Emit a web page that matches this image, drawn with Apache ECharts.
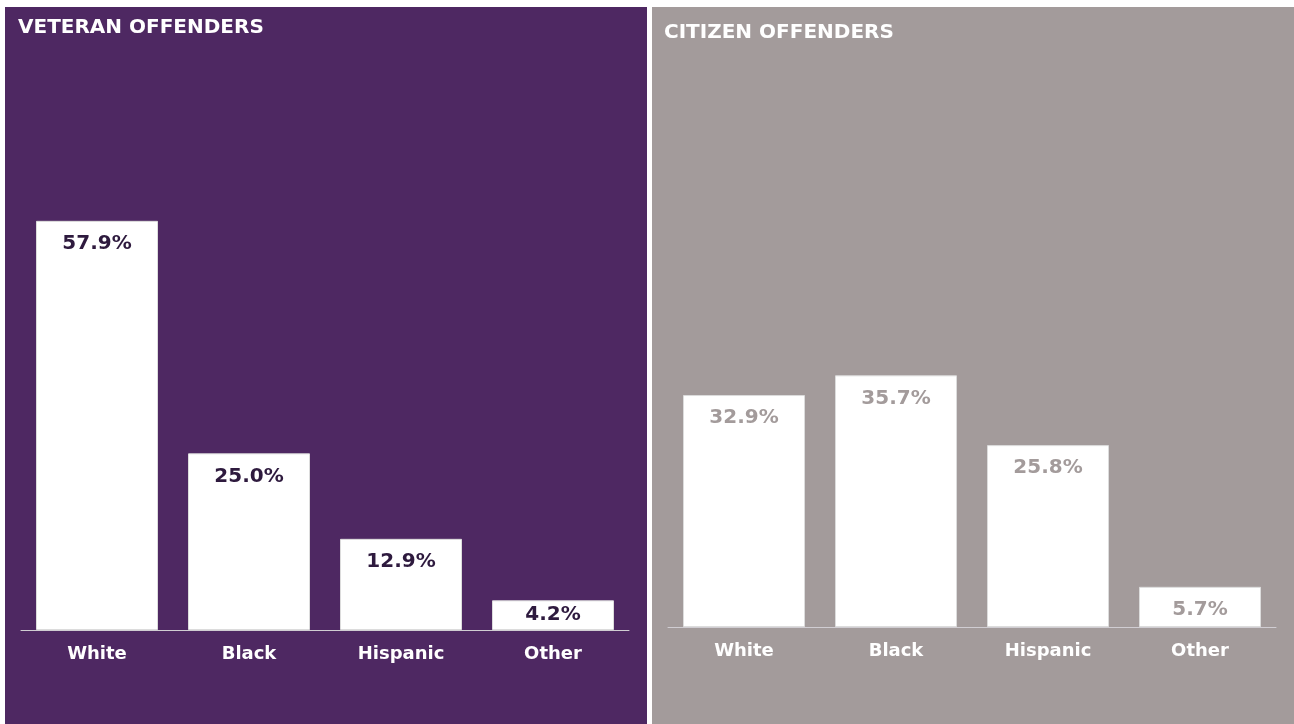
<!DOCTYPE html>
<html>
<head>
<meta charset="utf-8">
<style>
  html, body { margin: 0; padding: 0; background: #ffffff; }
  #chart { width: 1294px; height: 724px; }
</style>
<script src="https://cdn.jsdelivr.net/npm/echarts@6/dist/echarts.min.js"></script>
</head>
<body>
<div id="chart"></div>
<script>
// Race/ethnicity shares (%) for veteran vs. citizen offenders
const categories = ['White', 'Black', 'Hispanic', 'Other'];
const veteranValues = [57.9, 25.0, 12.9, 4.2];
const citizenValues = [32.9, 35.7, 25.8, 5.7];
const panelTitles = ['VETERAN OFFENDERS', 'CITIZEN OFFENDERS'];

const FONT = '"DejaVu Sans", "Noto Sans", sans-serif';
const PURPLE = '#4e2862';
const GREY = '#a39b9b';

const chart = echarts.init(document.getElementById('chart'), null, { renderer: 'canvas' });

function axisX(gridIndex) {
  return {
    type: 'category',
    gridIndex: gridIndex,
    data: categories,
    axisTick: { show: false },
    axisLine: { show: true, lineStyle: { color: '#d0cdd2', width: 1 } },
    axisLabel: {
      color: '#ffffff', fontFamily: FONT, fontWeight: 'bold', fontSize: 18, margin: 15
    }
  };
}
function axisY(gridIndex) {
  return {
    type: 'value', gridIndex: gridIndex, min: 0, max: 60,
    show: false, splitLine: { show: false }
  };
}
function barSeries(idx, values, labelColor) {
  return {
    type: 'bar',
    xAxisIndex: idx, yAxisIndex: idx,
    // short bars keep their label tucked closer to the top edge
    data: values.map(v => v < 5 ? { value: v, label: { distance: 4 } } : v),
    barWidth: 122,
    itemStyle: { color: '#ffffff', borderColor: '#dcdcdc', borderWidth: 1 },
    label: {
      show: true, position: 'insideTop', distance: 13,
      color: labelColor, fontFamily: FONT, fontWeight: 'bold', fontSize: 20,
      formatter: p => p.value.toFixed(1) + '%'
    },
    silent: true
  };
}

chart.setOption({
  animation: false,
  backgroundColor: '#ffffff',
  graphic: [
    { type: 'rect', z: -10, shape: { x: 5, y: 7, width: 642, height: 717 }, style: { fill: PURPLE } },
    { type: 'rect', z: -10, shape: { x: 652, y: 7, width: 642, height: 717 }, style: { fill: GREY } },
    { type: 'text', left: 18, top: 18, style: { text: panelTitles[0], fill: '#ffffff', font: 'bold 20px ' + FONT } },
    { type: 'text', left: 664, top: 23, style: { text: panelTitles[1], fill: '#ffffff', font: 'bold 20px ' + FONT } }
  ],
  grid: [
    { left: 21, width: 608, top: 206, height: 424 },
    { left: 668, width: 608, top: 204, height: 423 }
  ],
  xAxis: [axisX(0), axisX(1)],
  yAxis: [axisY(0), axisY(1)],
  series: [
    barSeries(0, veteranValues, '#2e1a3e'),
    barSeries(1, citizenValues, GREY)
  ]
});
</script>
</body>
</html>
